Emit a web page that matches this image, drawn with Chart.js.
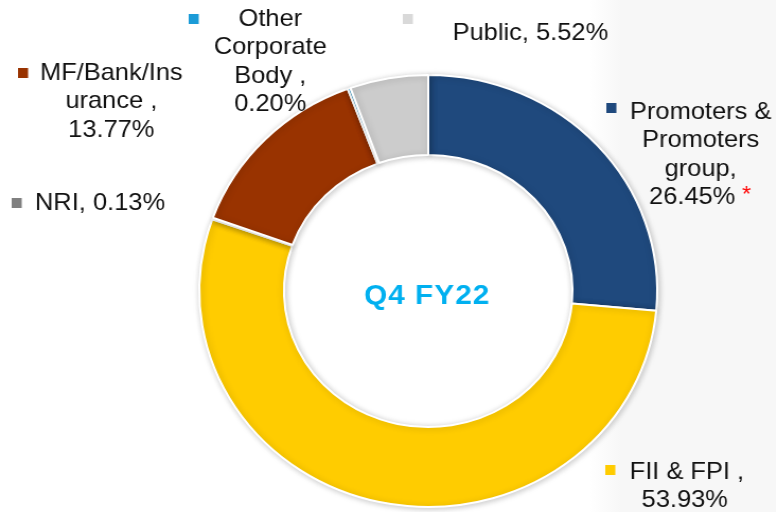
<!DOCTYPE html>
<html>
<head>
<meta charset="utf-8">
<script src="https://cdn.jsdelivr.net/npm/chart.js@4.4.1/dist/chart.umd.min.js"></script>
<style>
  html, body { margin: 0; padding: 0; }
  body {
    width: 776px; height: 512px; overflow: hidden;
    background: linear-gradient(to right, #ffffff 0%, #ffffff 76%, #f7f7f7 80%, #f7f7f7 100%);
  }
  /* the source picture is stretched a little sideways */
  #wrap { width: 732px; height: 512px; transform: scaleX(1.06); transform-origin: 0 0; }
</style>
</head>
<body>
<div id="wrap"><canvas id="holdingChart"></canvas></div>
<script>
// shareholding pattern, Q4 FY22
const categories = ['Promoters & Promoters group', 'FII & FPI', 'NRI', 'MF/Bank/Insurance', 'Other Corporate Body', 'Public'];
const shares = [26.45, 53.93, 0.13, 13.77, 0.20, 5.52];
const sliceColors = ['#1F497D', '#FFCC00', '#808080', '#993300', '#1B9BD7', '#CCCCCC'];
const markerColors = ['#1F497D', '#FFCC00', '#808080', '#993300', '#1B9BD7', '#D9D9D9'];
const centerTitle = 'Q4 FY22';

// label text (lines) for each slice, with where it sits on the page
const labelLines = [
  ['Promoters &', 'Promoters', 'group,', '26.45%'],
  ['FII & FPI ,', '53.93%'],
  ['NRI, 0.13%'],
  ['MF/Bank/Ins', 'urance ,', '13.77%'],
  ['Other', 'Corporate', 'Body ,', '0.20%'],
  ['Public, 5.52%']
];
const labelPlaces = [
  { x: 661, y: 112, align: 'center', mx: 572, my: 103 },
  { x: 594, y: 472, align: 'left', mx: 571, my: 465, second: 646 },
  { x: 33, y: 203, align: 'left', mx: 11, my: 198 },
  { x: 105, y: 73, align: 'center', mx: 17, my: 68 },
  { x: 255, y: 19, align: 'center', mx: 178, my: 14 },
  { x: 427, y: 33, align: 'left', mx: 380, my: 14 }
];

const ringShadow = {
  id: 'ringShadow',
  beforeDatasetsDraw(chart) {
    const ctx = chart.ctx;
    ctx.save();
    ctx.shadowColor = 'rgba(0,0,0,0.22)';
    ctx.shadowBlur = 6;
    ctx.shadowOffsetX = 1;
    ctx.shadowOffsetY = 1;
  },
  afterDatasetsDraw(chart) {
    chart.ctx.restore();
  }
};

const sliceLabels = {
  id: 'sliceLabels',
  afterDraw(chart) {
    const ctx = chart.ctx;
    const arc = chart.getDatasetMeta(0).data[0];
    ctx.save();
    // centre title
    ctx.font = 'bold 28px "Liberation Sans", Arial, sans-serif';
    ctx.letterSpacing = '1px';
    ctx.fillStyle = '#00B0F0';
    ctx.textAlign = 'center';
    ctx.textBaseline = 'middle';
    ctx.fillText(centerTitle, arc.x - 1, arc.y + 5);
    ctx.letterSpacing = '0px';

    ctx.font = '24px "Liberation Sans", Arial, sans-serif';
    labelLines.forEach((lines, i) => {
      const p = labelPlaces[i];
      ctx.fillStyle = markerColors[i];
      ctx.fillRect(p.mx, p.my, 9.5, 10);
      ctx.fillStyle = '#111111';
      lines.forEach((line, k) => {
        let x = p.x;
        let align = p.align;
        if (k > 0 && p.second) { x = p.second; align = 'center'; }
        if (i === 0 && k === 3) x = 653;
        ctx.textAlign = align;
        ctx.fillText(line, x, p.y + k * 28.5);
      });
    });
    // red asterisk after the promoters value
    ctx.fillStyle = '#FF0000';
    ctx.font = '22px "Liberation Sans", Arial, sans-serif';
    ctx.textAlign = 'left';
    ctx.fillText('*', 700, labelPlaces[0].y + 3 * 28.5 - 3);
    ctx.restore();
  }
};

new Chart(document.getElementById('holdingChart'), {
  type: 'doughnut',
  data: {
    labels: categories,
    datasets: [{
      data: shares,
      backgroundColor: sliceColors,
      borderColor: '#ffffff',
      borderWidth: 2
    }]
  },
  options: {
    responsive: true,
    maintainAspectRatio: false,
    animation: false,
    cutout: '63%',
    layout: { padding: { top: 74, bottom: 4, left: 187, right: 111 } },
    plugins: {
      legend: { display: false },
      tooltip: { enabled: false }
    }
  },
  plugins: [ringShadow, sliceLabels]
});
</script>
</body>
</html>
